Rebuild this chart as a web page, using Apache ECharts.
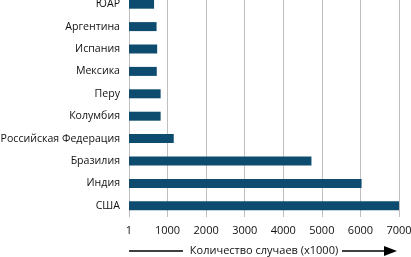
<!DOCTYPE html>
<html>
<head>
<meta charset="utf-8">
<script src="https://cdn.jsdelivr.net/npm/echarts@6/dist/echarts.min.js"></script>
<style>
  html, body { margin: 0; padding: 0; background: #fff; }
  #chart { width: 411px; height: 257px; }
</style>
</head>
<body>
<div id="chart"></div>
<script>
// страны (снизу вверх) и число случаев, тыс.
var countries = ['США', 'Индия', 'Бразилия', 'Российская Федерация', 'Колумбия', 'Перу', 'Мексика', 'Испания', 'Аргентина', 'ЮАР'];
var cases = [7000, 6030, 4730, 1160, 820, 820, 720, 730, 715, 650];
var axisTitle = 'Количество случаев (x1000)';

var chart = echarts.init(document.getElementById('chart'));
var font = '"Open Sans", "Noto Sans", sans-serif';

chart.setOption({
  animation: false,
  grid: { left: 129, right: 12, top: -7, bottom: 40, containLabel: false, outerBoundsMode: 'none' },
  xAxis: {
    type: 'value',
    min: 0,
    max: 7000,
    interval: 1000,
    axisLine: { show: false },
    axisTick: { show: false },
    splitLine: { lineStyle: { color: '#bfbfbf', width: 1 } },
    axisLabel: {
      margin: 8,
      color: '#111',
      fontFamily: font,
      fontSize: 11,
      formatter: function (v) { return v === 0 ? '1' : String(v); }
    },
    name: axisTitle,
    nameLocation: 'middle',
    nameGap: 28,
    nameTextStyle: { color: '#111', fontFamily: font, fontSize: 11 }
  },
  yAxis: {
    type: 'category',
    data: countries,
    axisLine: { show: true, lineStyle: { color: '#bfbfbf' } },
    axisTick: { show: false },
    axisLabel: { margin: 9, color: '#111', fontFamily: font, fontSize: 10.6 }
  },
  series: [{
    type: 'bar',
    data: cases,
    barWidth: 9,
    itemStyle: { color: '#0e4c6f' }
  }],
  graphic: [
    {
      type: 'line',
      shape: { x1: 129, y1: 251, x2: 183, y2: 251 },
      style: { stroke: '#000', lineWidth: 1.3 }
    },
    {
      type: 'line',
      shape: { x1: 342, y1: 251, x2: 386, y2: 251 },
      style: { stroke: '#000', lineWidth: 1.3 }
    },
    {
      type: 'polygon',
      shape: { points: [[384, 246], [397, 251], [384, 256]] },
      style: { fill: '#000' }
    }
  ]
});
</script>
</body>
</html>
